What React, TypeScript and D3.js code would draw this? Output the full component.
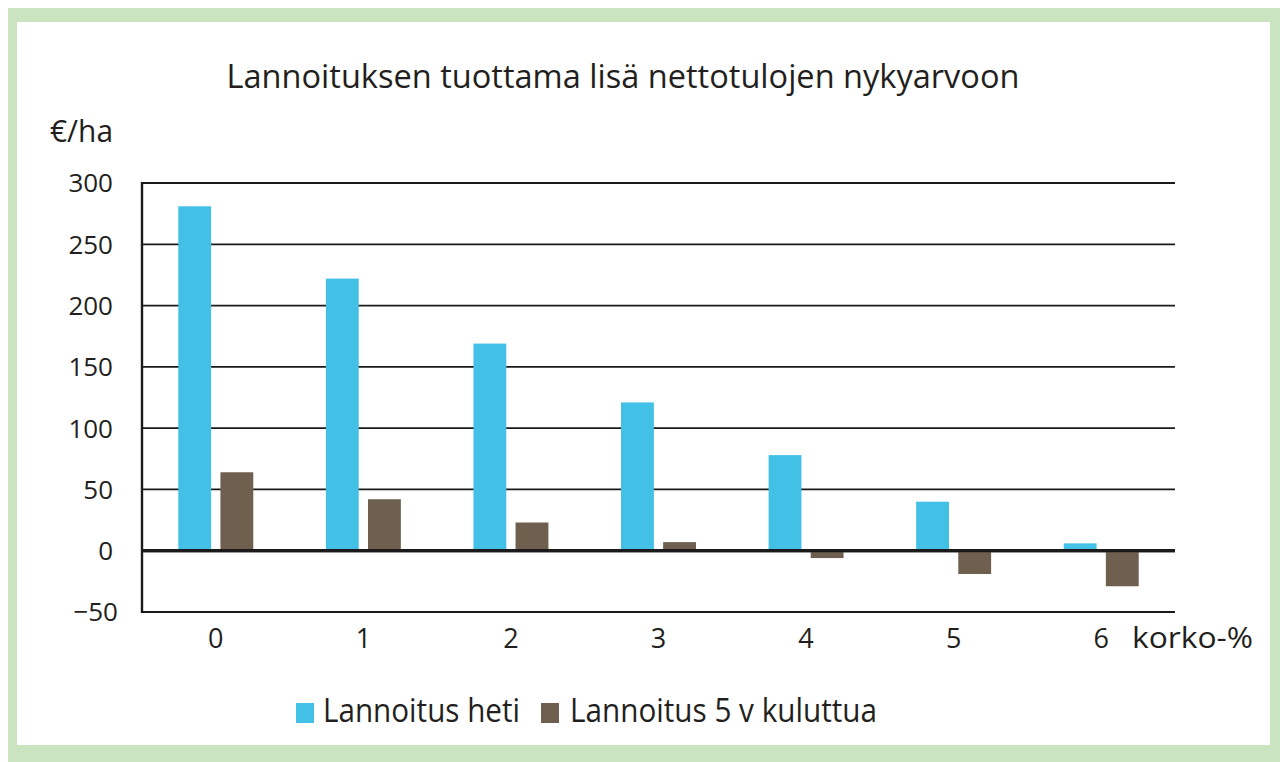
import React from "react";
import * as d3 from "d3";

const title = "Lannoituksen tuottama lisä nettotulojen nykyarvoon";
const yUnit = "€/ha";
const xUnit = "korko-%";
const categories = ["0", "1", "2", "3", "4", "5", "6"];
const seriesNames = ["Lannoitus heti", "Lannoitus 5 v kuluttua"];
const heti = [281, 222, 169, 121, 78, 40, 6];
const kuluttua = [64, 42, 23, 7, -6, -19, -29];
const yTicks = [-50, 0, 50, 100, 150, 200, 250, 300];
const colors = ["#43c0e6", "#6e5f4f"];

const FONT = "'Open Sans', 'Noto Sans', sans-serif";

export default function App() {
  const W = 1280;
  const H = 762;
  const left = 142;
  const right = 1175;
  const top = 183;
  const bottom = 612;

  const y = d3.scaleLinear().domain([-50, 300]).range([bottom, top]);
  const x0 = d3
    .scaleBand<string>()
    .domain(categories)
    .range([left, right])
    .paddingInner(0.492)
    .paddingOuter(0.246);
  const x1 = d3
    .scaleBand<string>()
    .domain(seriesNames)
    .range([0, x0.bandwidth()])
    .paddingInner(0.22);

  const seriesData = [heti, kuluttua];
  const txt = "#231f20";

  return (
    <svg
      width={W}
      height={H}
      style={{ position: "absolute", left: 0, top: 0, background: "#fff" }}
      fontFamily={FONT}
    >
      <rect x={8} y={8} width={W - 8} height={H - 8} fill="#c9e4bf" />
      <rect x={17} y={22} width={1253} height={723} fill="#ffffff" />

      <text
        x={623}
        y={88}
        textAnchor="middle"
        fontSize={33}
        fill={txt}
        textLength={793}
        lengthAdjust="spacingAndGlyphs"
      >
        {title}
      </text>

      <text
        x={113}
        y={142}
        textAnchor="end"
        fontSize={31}
        fill={txt}
        textLength={63}
        lengthAdjust="spacingAndGlyphs"
      >
        {yUnit}
      </text>

      {/* gridlines */}
      {yTicks.map((t) => (
        <line
          key={"g" + t}
          x1={left}
          x2={right}
          y1={y(t)}
          y2={y(t)}
          stroke="#1a1a1a"
          strokeWidth={t === 0 ? 3.2 : 1.8}
        />
      ))}
      {/* y tick labels */}
      {yTicks.map((t) => (
        <text
          key={"t" + t}
          x={t < 0 ? 118 : 113}
          y={y(t)}
          dy="0.36em"
          textAnchor="end"
          fontSize={26}
          fill={txt}
        >
          {t < 0 ? "\u2212" + Math.abs(t) : String(t)}
        </text>
      ))}

      {/* bars */}
      {categories.map((c, i) => (
        <g key={"c" + c} transform={`translate(${x0(c)},0)`}>
          {seriesNames.map((s, k) => {
            const v = seriesData[k][i];
            return (
              <rect
                key={s}
                x={x1(s)}
                y={y(Math.max(0, v))}
                width={x1.bandwidth()}
                height={Math.abs(y(v) - y(0))}
                fill={colors[k]}
              />
            );
          })}
        </g>
      ))}

      {/* zero line on top of bars */}
      <line x1={left} x2={right} y1={y(0)} y2={y(0)} stroke="#1a1a1a" strokeWidth={3.2} />
      {/* y axis line */}
      <line x1={left} x2={left} y1={top - 1} y2={bottom + 1} stroke="#1a1a1a" strokeWidth={2.4} />

      {/* x labels */}
      {categories.map((c) => (
        <text
          key={"x" + c}
          x={(x0(c) as number) + x0.bandwidth() / 2}
          y={648}
          textAnchor="middle"
          fontSize={27}
          fill={txt}
        >
          {c}
        </text>
      ))}
      <text
        x={1132}
        y={648}
        fontSize={30}
        fill={txt}
        textLength={121}
        lengthAdjust="spacingAndGlyphs"
      >
        {xUnit}
      </text>

      {/* legend */}
      <rect x={296} y={703} width={18} height={20} fill={colors[0]} />
      <text
        x={323}
        y={722}
        fontSize={32}
        fill={txt}
        textLength={197}
        lengthAdjust="spacingAndGlyphs"
      >
        {seriesNames[0]}
      </text>
      <rect x={541} y={703} width={18} height={20} fill={colors[1]} />
      <text
        x={570}
        y={722}
        fontSize={32}
        fill={txt}
        textLength={307}
        lengthAdjust="spacingAndGlyphs"
      >
        {seriesNames[1]}
      </text>
    </svg>
  );
}
